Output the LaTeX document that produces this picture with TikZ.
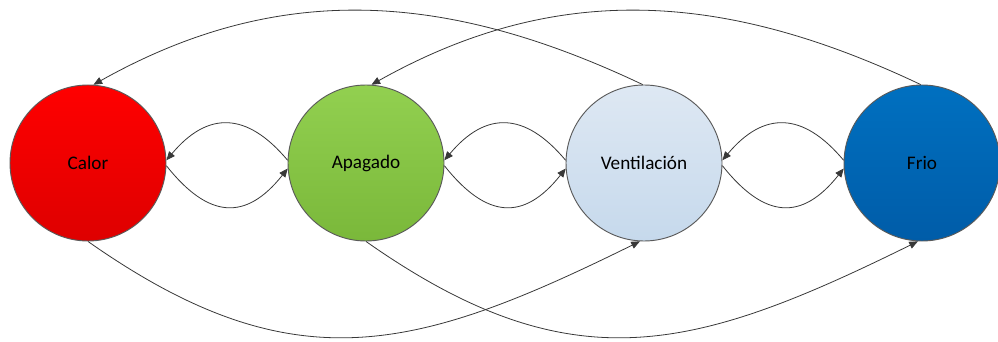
\documentclass[tikz,border=0pt]{standalone}
\usepackage{fontspec}
\setmainfont{Carlito}
\usetikzlibrary{arrows.meta}

\definecolor{edgegray}{HTML}{383838}
\definecolor{rimgray}{HTML}{5A5A5A}

\tikzset{
  statenode/.style={circle, draw=rimgray, line width=0.7pt,
    minimum size=117pt, inner sep=0pt, font=\fontsize{14.4}{16}\selectfont,
    text=black},
  link/.style={draw=edgegray, line width=0.6pt,
    -{Triangle[length=6.5pt,width=5.5pt]}},
}

\begin{document}
\begin{tikzpicture}[x=0.75pt, y=-0.75pt]
  \useasboundingbox (0,0) rectangle (998,342);

  % the four states
  \node[statenode, top color={rgb,255:red,255;green,0;blue,0},
        bottom color={rgb,255:red,222;green,0;blue,0}] (calor) at (88,163) {Calor};
  \node[statenode, top color={rgb,255:red,146;green,208;blue,80},
        bottom color={rgb,255:red,122;green,184;blue,58}] (apagado) at (366,163) {Apagado};
  \node[statenode, top color={rgb,255:red,222;green,232;blue,243},
        bottom color={rgb,255:red,198;green,217;blue,236}] (vent) at (644,163) {Ventilación};
  \node[statenode, top color={rgb,255:red,0;green,112;blue,192},
        bottom color={rgb,255:red,0;green,92;blue,168}] (frio) at (922,163) {Frio};

  % transitions between neighbouring states
  \foreach \l/\r in {calor/apagado, apagado/vent, vent/frio}{
    \draw[link] (\r.178) .. controls +(-41,-49) and +(41,-49) .. (\l.2);
    \draw[link] (\l.358) .. controls +(42,53) and +(-42,53) .. (\r.184);
  }

  % long transitions over the top
  \draw[link] (vent.91) .. controls +(-194,-92) and +(187,-105) .. (calor.86);
  \draw[link] (frio.91) .. controls +(-194,-92) and +(187,-105) .. (apagado.86);

  % long transitions underneath
  \draw[link] (calor.270) .. controls +(205,144) and +(-225,111) .. (vent.267);
  \draw[link] (apagado.270) .. controls +(205,144) and +(-225,111) .. (frio.267);
\end{tikzpicture}
\end{document}
